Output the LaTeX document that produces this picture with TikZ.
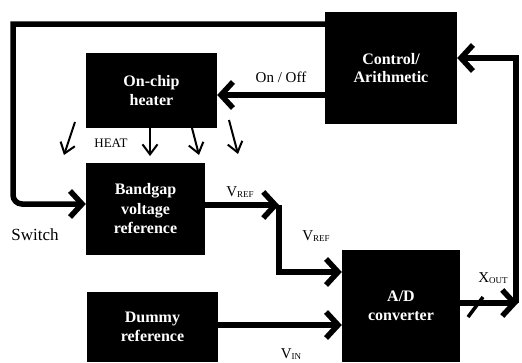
\documentclass[tikz,border=0pt]{standalone}
\usepackage{fontspec}
\setmainfont{Liberation Serif}
\usetikzlibrary{arrows.meta}
\newcommand{\subtx}[1]{\raisebox{-1.5pt}{\fontsize{9}{9}\selectfont #1}}
\tikzset{
  blk/.style={fill=black, draw=none, text=white, align=center, inner sep=0pt,
    font=\bfseries\fontsize{16}{18.5}\selectfont},
  conn/.style={line width=5.5pt, -{Straight Barb[length=12pt,width=26pt]}},
  heatarr/.style={line width=2pt, -{Straight Barb[length=10pt,width=15pt]}},
  lbl/.style={inner sep=0pt, font=\fontsize{15}{18}\selectfont}
}
\begin{document}
\begin{tikzpicture}[x=1pt,y=-1pt]
\useasboundingbox (0,0) rectangle (522,362);
% boxes
\node[blk, minimum width=132pt, minimum height=112pt] (ctl) at (391,68) {Control/\\Arithmetic};
\node[blk, minimum width=131pt, minimum height=75pt] (heat) at (151.5,90.5) {On-chip\\heater};
\node[blk, minimum width=119pt, minimum height=92pt, font=\bfseries\fontsize{16}{19.5}\selectfont] (bg) at (145.5,209) {Bandgap\\voltage\\reference};
\node[blk, minimum width=118pt, minimum height=112pt] (ad) at (401,306) {A/D\\converter};
\node[blk, minimum width=131pt, minimum height=70pt] (dum) at (152.5,327) {Dummy\\reference};
% coordinates
\coordinate (tl) at (13,24);
\coordinate (sw) at (13,204);
\coordinate (oo) at (0,95);
\coordinate (rc) at (518,303);
\coordinate (rv) at (516,303);
\coordinate (rt) at (516,58);
\coordinate (vr) at (279,205);
\coordinate (vr2) at (279,272);
\coordinate (vi) at (0,325);
% connectors
\draw[conn] (ctl.west |- tl) -- (tl) [rounded corners=9pt] -- (sw) -- (bg.west |- sw);
\draw[conn] (ctl.west |- oo) -- (heat.east |- oo);
\draw[conn] (ad.east |- rc) -- (rc);
\draw[conn] (rv) -- (rt) -- (ctl.east |- rt);
\draw[conn] (bg.east |- vr) -- (vr);
\draw[conn] (vr) -- (vr2) -- (ad.west |- vr2);
\draw[conn] (dum.east |- vi) -- (ad.west |- vi);
\draw[line width=3.5pt] (468,317) -- (483,297);
% heat arrows
\coordinate (h1s) at (75,122); \coordinate (h1e) at (64,155);
\coordinate (h2s) at (150,128); \coordinate (h2e) at (150,156);
\coordinate (h3s) at (192,128); \coordinate (h3e) at (199,155);
\coordinate (h4s) at (229,120); \coordinate (h4e) at (238,154);
\draw[heatarr] (h1s) -- (h1e);
\draw[heatarr] (h2s) -- (h2e);
\draw[heatarr] (h3s) -- (h3e);
\draw[heatarr] (h4s) -- (h4e);
% labels
\node[lbl] (onoff) at (281,77) {On / Off};
\node[lbl, font=\fontsize{13}{13}\selectfont] (heatl) at (111,143) {HEAT};
\node[lbl, font=\fontsize{17}{17}\selectfont] (swl) at (35,235) {Switch};
\node[lbl] (vref1) at (240,192) {V\subtx{REF}};
\node[lbl] (vref2) at (316,236) {V\subtx{REF}};
\node[lbl] (vin) at (291,354) {V\subtx{IN}};
\node[lbl] (xout) at (493,278) {X\subtx{OUT}};
\end{tikzpicture}
\end{document}
